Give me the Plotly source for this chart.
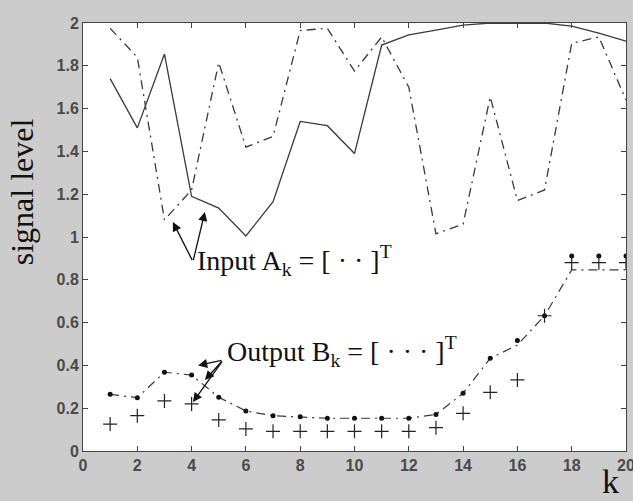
import plotly.graph_objects as go

k = list(range(1, 21))
input_solid = [1.74, 1.51, 1.855, 1.19, 1.135, 1.005, 1.165, 1.54, 1.52, 1.39,
               1.897, 1.944, 1.967, 1.99, 2.0, 1.998, 2.0, 1.985, 1.953, 1.915]
input_dashdot = [1.975, 1.84, 1.08, 1.22, 1.815, 1.42, 1.47, 1.965, 1.975, 1.775,
                 1.935, 1.70, 1.015, 1.06, 1.655, 1.17, 1.22, 1.905, 1.935, 1.64]
output_dots = [0.265, 0.249, 0.368, 0.355, 0.251, 0.187, 0.165, 0.160, 0.153, 0.153,
               0.153, 0.153, 0.171, 0.27, 0.433, 0.516, 0.632, 0.911, 0.911, 0.911]
output_plus = [0.126, 0.165, 0.234, 0.22, 0.145, 0.103, 0.092, 0.092, 0.092, 0.092,
               0.092, 0.092, 0.109, 0.176, 0.274, 0.332, 0.632, 0.88, 0.88, 0.88]
output_line = [0.265, 0.249, 0.368, 0.355, 0.251, 0.187, 0.165, 0.160, 0.153, 0.153,
               0.153, 0.153, 0.171, 0.27, 0.433, 0.495, 0.632, 0.846, 0.846, 0.846]

x_ticks = list(range(0, 21, 2))
y_ticks = [0, 0.2, 0.4, 0.6, 0.8, 1, 1.2, 1.4, 1.6, 1.8, 2]
y_tick_text = ["0", "0.2", "0.4", "0.6", "0.8", "1", "1.2", "1.4", "1.6", "1.8", "2"]

input_label = "Input A<sub>k</sub> = [ · · ]<sup>T</sup>"
output_label = "Output B<sub>k</sub> = [ · · · ]<sup>T</sup>"

LC = "#3a3a3a"
fig = go.Figure()
fig.add_trace(go.Scatter(x=k, y=input_solid, mode="lines",
                         line=dict(color=LC, width=1.3)))
fig.add_trace(go.Scatter(x=k, y=input_dashdot, mode="lines",
                         line=dict(color=LC, width=1.3, dash="9px,5px,2px,5px")))
fig.add_trace(go.Scatter(x=k, y=output_line, mode="lines",
                         line=dict(color=LC, width=1.2, dash="9px,5px,2px,5px")))
fig.add_trace(go.Scatter(x=k, y=output_dots, mode="markers",
                         marker=dict(color="#111111", size=5, symbol="circle")))
fig.add_trace(go.Scatter(x=k, y=output_plus, mode="markers",
                         marker=dict(color="#222222", size=10, symbol="cross-thin",
                                     line=dict(color="#222222", width=1.2))))

serif = "Liberation Serif, Times New Roman, serif"
ann = []
# input arrows
for hx, hy in [(3.31, 1.07), (4.49, 1.117)]:
    ann.append(dict(x=hx, y=hy, ax=4.05, ay=0.885, xref="x", yref="y",
                    axref="x", ayref="y", text="", showarrow=True,
                    arrowhead=2, arrowsize=1.4, arrowwidth=1.3, arrowcolor="#111111"))
# output arrows
for hx, hy in [(4.24, 0.40), (4.49, 0.332), (4.05, 0.229)]:
    ann.append(dict(x=hx, y=hy, ax=5.16, ay=0.425, xref="x", yref="y",
                    axref="x", ayref="y", text="", showarrow=True,
                    arrowhead=2, arrowsize=1.4, arrowwidth=1.3, arrowcolor="#111111"))
ann.append(dict(x=4.12, y=0.89, xref="x", yref="y", text=input_label, showarrow=False,
                xanchor="left", yanchor="middle", font=dict(family=serif, size=28, color="#111111")))
ann.append(dict(x=5.23, y=0.465, xref="x", yref="y", text=output_label, showarrow=False,
                xanchor="left", yanchor="middle", font=dict(family=serif, size=28, color="#111111")))
ann.append(dict(x=-0.112, y=0.605, xref="paper", yref="paper", text="signal level",
                textangle=-90, showarrow=False, xanchor="center", yanchor="middle",
                font=dict(family=serif, size=32, color="#111111")))
ann.append(dict(x=0.972, y=-0.072, xref="paper", yref="paper", text="k",
                showarrow=False, xanchor="center", yanchor="middle",
                font=dict(family=serif, size=34, color="#111111")))

axis_common = dict(showline=True, linecolor="#444444", linewidth=1, mirror="ticks",
                   ticks="inside", ticklen=5, tickcolor="#444444", showgrid=False,
                   zeroline=False, ticklabeloverflow="allow", automargin=False,
                   tickfont=dict(family="Liberation Sans, Arial, sans-serif", size=16,
                                 color="#4a4a4a", weight="bold"))

fig.update_layout(
    width=633, height=501,
    margin=dict(l=83, r=7, t=23, b=50, autoexpand=False),
    paper_bgcolor="#cccccc", plot_bgcolor="#ffffff",
    showlegend=False,
    annotations=ann,
    xaxis=dict(range=[0, 20], tickvals=x_ticks, **axis_common),
    yaxis=dict(range=[0, 2], tickvals=y_ticks, ticktext=y_tick_text, **axis_common),
)
fig.write_html("out.html")
